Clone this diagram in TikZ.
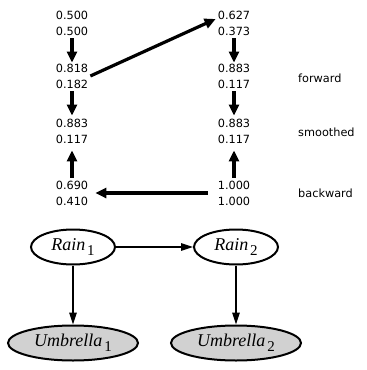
\documentclass[tikz,border=0pt]{standalone}
\usepackage{fontspec}
\setmainfont{Liberation Serif}
\newfontfamily\numfont{DejaVu Sans}
\usetikzlibrary{arrows.meta,shapes.geometric}
\newcommand{\varlab}[2]{\textit{#1}\kern2pt\raisebox{-5pt}{\fontsize{15}{16}\selectfont #2}}
\tikzset{
  num/.style={align=center, inner xsep=2pt, inner ysep=3pt, font=\numfont\fontsize{11.3}{16}\selectfont},
  lab/.style={anchor=west, inner sep=0pt, font=\numfont\fontsize{11.3}{13}\selectfont},
  bigarrow/.style={line width=3.2pt, -{Triangle[length=11pt,width=10pt]}},
  rainnode/.style={ellipse, draw, line width=2pt, fill=white, inner sep=0pt, minimum width=84pt, minimum height=35pt, font=\fontsize{18}{20}\selectfont},
  umbnode/.style={ellipse, draw, line width=2pt, fill=black!18, inner sep=0pt, minimum width=130pt, minimum height=35pt, font=\fontsize{18}{20}\selectfont},
  thinarrow/.style={line width=1.6pt, -{Triangle[length=12pt,width=7.5pt]}}
}
\begin{document}
\begin{tikzpicture}[x=1pt,y=-1pt]
\useasboundingbox (0,0) rectangle (367,370);
% numbers, column 1
\node[num] (a1) at (72,23) {0.500\\0.500};
\node[num] (a2) at (72,76) {0.818\\0.182};
\node[num] (a3) at (72,131) {0.883\\0.117};
\node[num] (a4) at (72,193) {0.690\\0.410};
% numbers, column 2
\node[num] (b1) at (234,23) {0.627\\0.373};
\node[num] (b2) at (234,76) {0.883\\0.117};
\node[num] (b3) at (234,131) {0.883\\0.117};
\node[num] (b4) at (234,193) {1.000\\1.000};
% labels
\node[lab] (lf) at (298,78) {forward};
\node[lab] (ls) at (298,132) {smoothed};
\node[lab] (lb) at (298,193) {backward};
% arrows
\draw[bigarrow, shorten >=-2pt] (a1) -- (a2);
\draw[bigarrow] (a2) -- (a3);
\draw[bigarrow, shorten >=4pt] (a4) -- (a3);
\draw[bigarrow, shorten >=-2pt] (b1) -- (b2);
\draw[bigarrow] (b2) -- (b3);
\draw[bigarrow, shorten >=4pt] (b4) -- (b3);
\draw[bigarrow] (a2.east) -- ([yshift=4pt]b1.west);
\draw[bigarrow, shorten <=8pt, shorten >=5pt] (b4.west) -- (a4.east);
% network
\node[rainnode] (r1) at (73,247) {\varlab{Rain}{1}};
\node[rainnode] (r2) at (236,247) {\varlab{Rain}{2}};
\node[umbnode] (u1) at (73,343) {\varlab{Umbrella}{1}};
\node[umbnode] (u2) at (236,343) {\varlab{Umbrella}{2}};
\draw[thinarrow] (r1) -- (r2);
\draw[thinarrow] (r1) -- (u1);
\draw[thinarrow] (r2) -- (u2);
\end{tikzpicture}
\end{document}
